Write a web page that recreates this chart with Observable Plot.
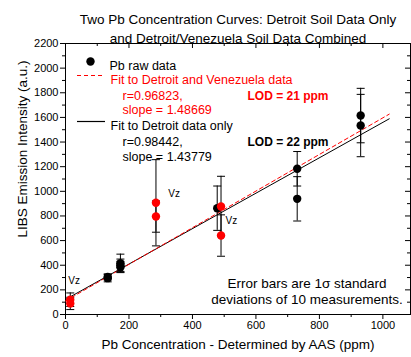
<!DOCTYPE html>
<html><head><meta charset="utf-8">
<script src="https://cdn.jsdelivr.net/npm/d3@7"></script>
<script src="https://cdn.jsdelivr.net/npm/@observablehq/plot@0.6"></script>
<style>body{margin:0;background:#fff;} #chart svg{display:block;}</style>
</head><body><div id="chart"></div>
<script>
// Data
const conc      = [15, 15, 133, 133, 173, 173, 173, 285, 285, 478, 490, 490, 730, 730, 930, 930];
const intensity = [90, 120, 295, 305, 384, 400, 417, 907, 795, 863, 877, 641, 1183, 939, 1615, 1534];
const sigma     = [50, 55, 30, 25, 44, 50, 73, 350, 127, 180, 245, 168, 140, 180, 221, 253];
const origin    = ["Vz","Vz","Det","Det","Det","Det","Det","Vz","Vz","Det","Vz","Vz","Det","Det","Det","Det"];

const vzLabelX = [9, 324, 504];
const vzLabelY = [276, 982, 763];

const fitNames      = ["Detroit and Venezuela", "Detroit only"];
const fitSlopes     = [1.48669, 1.43779];
const fitIntercepts = [110, 122];
const fitRange      = [0, 1020];

const xMajor = [0, 200, 400, 600, 800, 1000];
const xMinor = [100, 300, 500, 700, 900];
const yMajor = [0, 200, 400, 600, 800, 1000, 1200, 1400, 1600, 1800, 2000, 2200];
const yMinor = [100, 300, 500, 700, 900, 1100, 1300, 1500, 1700, 1900, 2100];

const points = conc.map((x, i) => ({x, y: intensity[i], s: sigma[i], o: origin[i]}));
const fits = fitNames.flatMap((name, k) => fitRange.map(x => ({name, x, y: fitIntercepts[k] + fitSlopes[k] * x})));
const vz = vzLabelX.map((x, i) => ({x, y: vzLabelY[i]}));

const W = 411, H = 357, mL = 65, mR = 1, mT = 43, mB = 43;
const fw = W - mL - mR, fh = H - mT - mB;
const RED = "#ff0000";
const capSym = {draw(ctx) { ctx.moveTo(-4, 0); ctx.lineTo(4, 0); }};
const font = "'Liberation Sans', Arial, sans-serif";
const LF = 12.5;

const chart = Plot.plot({
  width: W, height: H,
  marginLeft: mL, marginRight: mR, marginTop: mT, marginBottom: mB,
  style: {fontFamily: font, fontSize: "11px", color: "#000", background: "#fff"},
  x: {domain: [0, 1087], label: null},
  y: {domain: [0, 2200], label: null},
  marks: [
    Plot.frame({stroke: "#000"}),
    Plot.axisX({ticks: xMajor, tickSize: 5, tickPadding: 2, fontSize: 11, label: null, tickFormat: d => String(d)}),
    Plot.axisX({ticks: xMinor, tickSize: 3, text: null, label: null}),
    Plot.axisY({ticks: yMajor, tickSize: 5, tickPadding: 2, fontSize: 11, label: null, tickFormat: d => String(d)}),
    Plot.axisY({ticks: yMinor, tickSize: 3, text: null, label: null}),
    Plot.tickX(xMajor, {x: d => d, insetBottom: fh - 5, stroke: "#000"}),
    Plot.tickX(xMinor, {x: d => d, insetBottom: fh - 3, stroke: "#000"}),
    Plot.tickY(yMajor, {y: d => d, insetLeft: fw - 5, stroke: "#000"}),
    Plot.tickY(yMinor, {y: d => d, insetLeft: fw - 3, stroke: "#000"}),
    // fits
    Plot.line(fits.filter(d => d.name === fitNames[1]), {x: "x", y: "y", stroke: "#000", strokeWidth: 1}),
    Plot.line(fits.filter(d => d.name === fitNames[0]), {x: "x", y: "y", stroke: RED, strokeWidth: 1, strokeDasharray: "4,3"}),
    // error bars
    Plot.ruleX(points, {x: "x", y1: d => d.y - d.s, y2: d => d.y + d.s, stroke: "#000", strokeWidth: 1}),
    Plot.dot(points, {x: "x", y: d => d.y - d.s, symbol: capSym, stroke: "#000", strokeWidth: 1}),
    Plot.dot(points, {x: "x", y: d => d.y + d.s, symbol: capSym, stroke: "#000", strokeWidth: 1}),
    // points
    Plot.dot(points, {x: "x", y: "y", r: 4.2, fill: d => d.o === "Vz" ? RED : "#000", stroke: null}),
    Plot.text(vz, {x: "x", y: "y", text: () => "Vz", textAnchor: "start", fontSize: 10, fill: "#000"}),
    // legend
    Plot.dot([0], {frameAnchor: "top-left", dx: 25, dy: 18, r: 4.2, fill: "#000", stroke: null}),
    Plot.text(["Pb raw data"], {frameAnchor: "top-left", dx: 44, dy: 18, textAnchor: "start", fontSize: LF}),
    Plot.ruleY([2200], {y: d => d, dy: 32, insetLeft: 12, insetRight: fw - 40, stroke: RED, strokeWidth: 1.2, strokeDasharray: "4,3"}),
    Plot.text(["Fit to Detroit and Venezuela data"], {frameAnchor: "top-left", dx: 45, dy: 32, textAnchor: "start", fontSize: LF, fill: RED}),
    Plot.text(["r=0.96823,"], {frameAnchor: "top-left", dx: 57, dy: 48, textAnchor: "start", fontSize: LF, fill: RED}),
    Plot.text(["slope = 1.48669"], {frameAnchor: "top-left", dx: 57, dy: 62, textAnchor: "start", fontSize: LF, fill: RED}),
    Plot.ruleY([2200], {y: d => d, dy: 78, insetLeft: 12, insetRight: fw - 40, stroke: "#000", strokeWidth: 1.2}),
    Plot.text(["Fit to Detroit data only"], {frameAnchor: "top-left", dx: 45, dy: 78, textAnchor: "start", fontSize: LF}),
    Plot.text(["r=0.98442,"], {frameAnchor: "top-left", dx: 57, dy: 94, textAnchor: "start", fontSize: LF}),
    Plot.text(["slope = 1.43779"], {frameAnchor: "top-left", dx: 57, dy: 109, textAnchor: "start", fontSize: LF}),
    Plot.text(["LOD = 21 ppm"], {frameAnchor: "top-left", dx: 182, dy: 48, textAnchor: "start", fontSize: 12, fontWeight: "bold", fill: RED}),
    Plot.text(["LOD = 22 ppm"], {frameAnchor: "top-left", dx: 182, dy: 94, textAnchor: "start", fontSize: 12, fontWeight: "bold"}),
    Plot.text(["Error bars are 1σ standard"], {frameAnchor: "bottom", dx: 69, dy: -27, fontSize: 13.5}),
    Plot.text(["deviations of 10 measurements."], {frameAnchor: "bottom", dx: 69, dy: -11, fontSize: 13.5}),
    // titles and axis labels
    Plot.text(["Two Pb Concentration Curves: Detroit Soil Data Only"], {frameAnchor: "top", dy: -29, fontSize: 13.5}),
    Plot.text(["and Detroit/Venezuela Soil Data Combined"], {frameAnchor: "top", dy: -10, fontSize: 13.5}),
    Plot.text(["Pb Concentration - Determined by AAS (ppm)"], {frameAnchor: "bottom", dy: 34, fontSize: 13.5}),
    Plot.text(["LIBS Emission Intensity (a.u.)"], {frameAnchor: "left", dx: -43, dy: -30, rotate: -90, textAnchor: "middle", lineAnchor: "middle", fontSize: 13.5})
  ]
});
document.getElementById("chart").appendChild(chart);
</script>
</body></html>
